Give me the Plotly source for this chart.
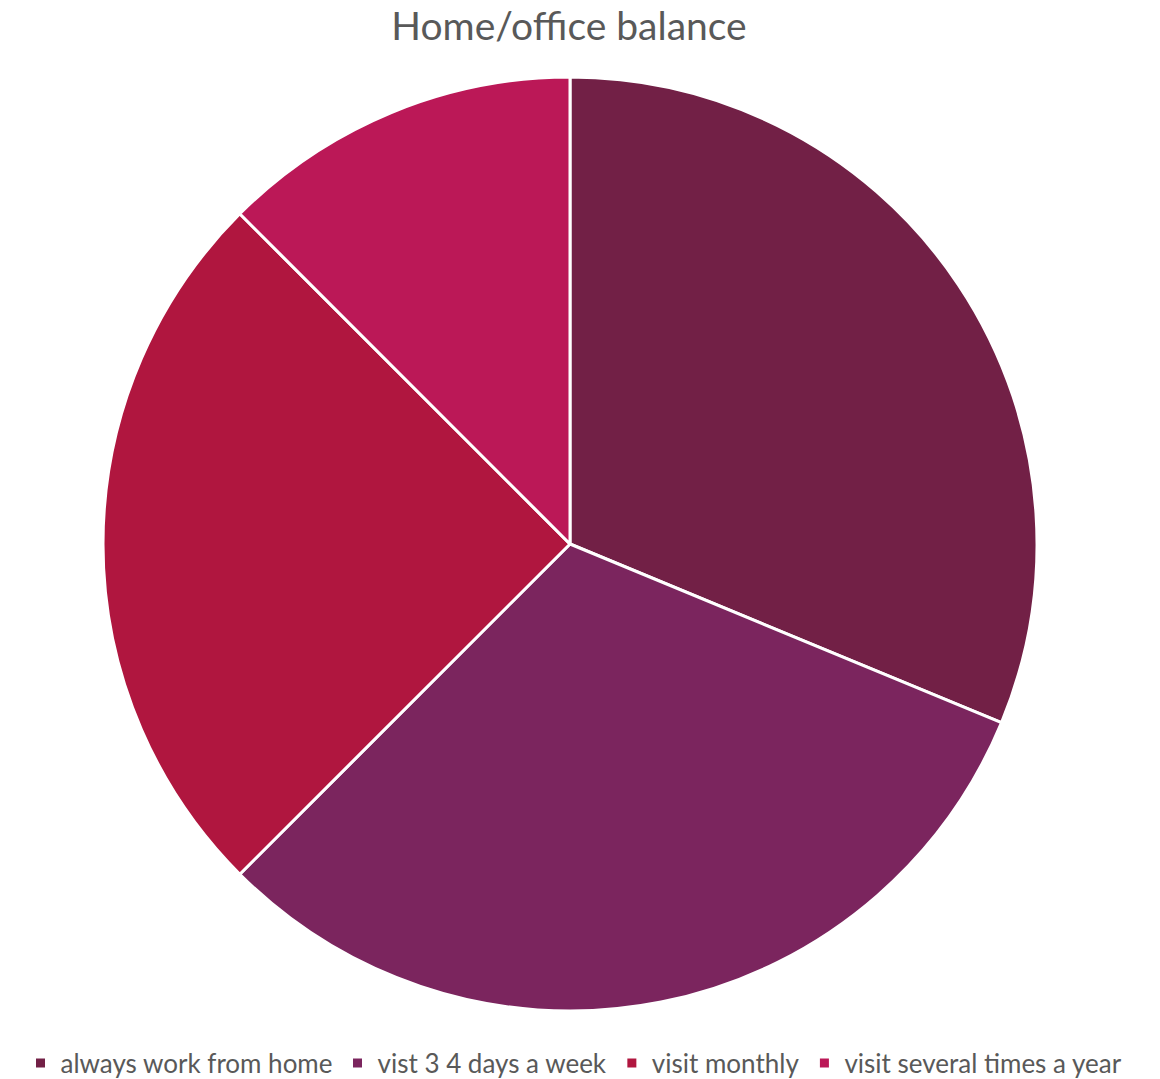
import plotly.graph_objects as go

labels = ["always work from home", "vist 3 4 days a week", "visit monthly", "visit several times a year"]
values = [5, 5, 4, 2]
colors = ["#722046", "#7B255E", "#B0163F", "#BB1857"]

W, H = 1160, 1079
cx, cy, r = 570, 544, 467

fig = go.Figure(go.Pie(
    labels=labels, values=values, sort=False, direction="clockwise", rotation=0,
    marker=dict(colors=colors, line=dict(color="white", width=3)),
    textinfo="none", hoverinfo="label+value+percent",
    domain=dict(x=[(cx - r) / W, (cx + r) / W], y=[1 - (cy + r) / H, 1 - (cy - r) / H]),
))
fig.update_layout(
    width=W, height=H,
    margin=dict(l=0, r=0, t=0, b=0, autoexpand=False),
    paper_bgcolor="white",
    font=dict(family="Lato", color="#595959"),
    title=dict(text="Home/office balance", x=569 / W, xanchor="center", y=1 - 26 / H, yanchor="middle",
               font=dict(size=39, color="#595959")),
    legend=dict(orientation="h", x=574 / W, xanchor="center", y=1 - 1063 / H, yanchor="middle",
                font=dict(size=26, color="#595959"), bgcolor="rgba(0,0,0,0)"),
)
fig.write_html("out.html", config={"displayModeBar": False},
               post_script="document.body.style.margin='0';document.body.style.overflow='hidden';")
